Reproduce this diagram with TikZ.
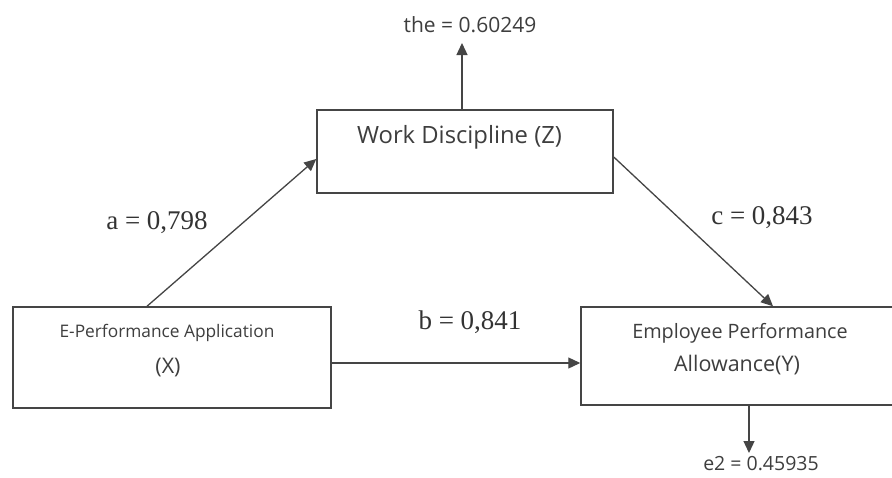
\documentclass[tikz,border=0pt]{standalone}
\usepackage{fontspec}
\setmainfont{Liberation Serif}
\newfontfamily\gs{Open Sans}
\usetikzlibrary{arrows.meta}
\definecolor{ln}{HTML}{454545}
\definecolor{tx}{HTML}{3E3E3E}
\begin{document}
\begin{tikzpicture}[x=1pt,y=-1pt,
  box/.style={draw=ln,line width=1.5pt,minimum width=#1,inner sep=0pt},
  arr/.style={draw=ln,line width=1.3pt,-{Triangle[length=12pt,width=11pt]}},
  sans/.style={text=tx,font=\gs\fontsize{#1}{#1}\selectfont,inner sep=0pt},
  coef/.style={text=black!80,font=\fontsize{27}{27}\selectfont,inner sep=0pt}]
\useasboundingbox (0,0) rectangle (892,477);
\fill[white] (0,0) rectangle (892,477);
% boxes
\node[box=296pt,minimum height=83pt] (Z) at (465,151.5) {};
\node[box=318pt,minimum height=101pt] (X) at (172,357.5) {};
\node[box=319pt,minimum height=98pt] (Y) at (740.5,356) {};
% box texts
\node[sans=23.8] (Zt) at (459.5,137) {Work Discipline (Z)};
\node[sans=17.3] (Xt1) at (167,333) {E-Performance Application};
\node[sans=21.5] (Xt2) at (168,368) {(X)};
\node[sans=19.8] (Yt1) at (740,333) {Employee Performance};
\node[sans=21.5] (Yt2) at (737,365) {Allowance(Y)};
% error labels
\node[sans=21] (ez) at (470,25) {the = 0.60249};
\node[sans=19.5] (ey) at (761,464) {e2 = 0.45935};
\coordinate (eyt) at (749,453);
\coordinate (ezt) at (462,43);
% coefficients
\node[coef] (a) at (157,223) {a = 0,798};
\node[coef] (b) at (470,322) {b = 0,841};
\node[coef] (c) at (762,218) {c = 0,843};
% arrows
\draw[arr] ([xshift=-3pt]Z.north) -- (ezt);
\draw[arr] ([xshift=-25pt]X.north) -- ([yshift=-7.5pt]Z.west);
\draw[arr] ([yshift=-5.5pt]Z.east) -- ([xshift=32.5pt]Y.north);
\draw[arr] ([yshift=-5.5pt]X.east) -- ([yshift=-5.5pt]X.east -| Y.west);
\draw[arr] ([xshift=8.5pt]Y.south) -- (eyt);
\end{tikzpicture}
\end{document}
